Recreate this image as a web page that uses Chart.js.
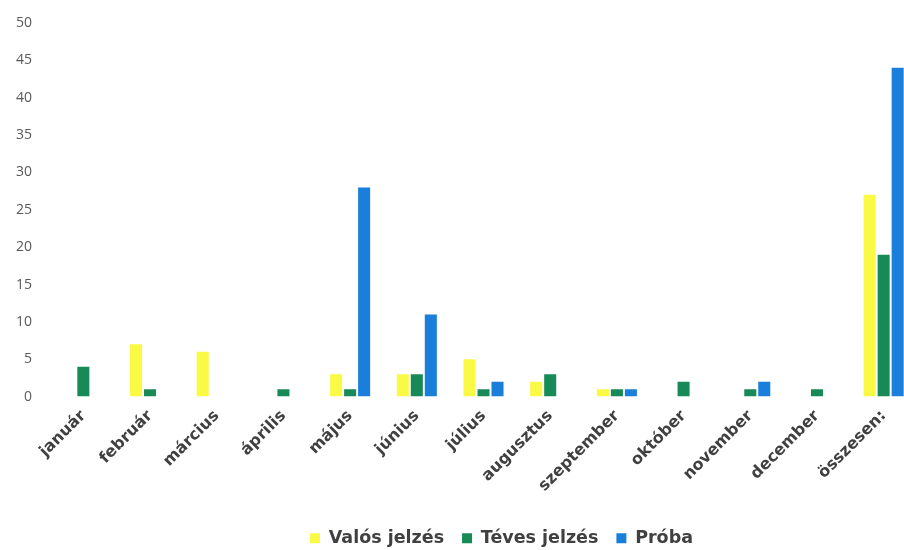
<!DOCTYPE html>
<html>
<head>
<meta charset="utf-8">
<script src="https://cdn.jsdelivr.net/npm/chart.js@4"></script>
<style>
  html, body { margin: 0; padding: 0; background: #fff; overflow: hidden; }
  #wrap { position: relative; width: 917px; height: 557px; }
</style>
</head>
<body>
<div id="wrap"><canvas id="jelzesChart"></canvas></div>
<script>
// data
const months = ['január', 'február', 'március', 'április', 'május', 'június', 'július',
    'augusztus', 'szeptember', 'október', 'november', 'december', 'összesen:'];
const valos = [0, 7, 6, 0, 3, 3, 5, 2, 1, 0, 0, 0, 27];
const teves = [4, 1, 0, 1, 1, 3, 1, 3, 1, 2, 1, 1, 19];
const proba = [0, 0, 0, 0, 28, 11, 2, 0, 1, 0, 2, 0, 44];
const seriesNames = ['Valós jelzés', 'Téves jelzés', 'Próba'];

const chartData = {
    labels: months,
    datasets: [
        { label: seriesNames[0], data: valos, backgroundColor: '#FAFA45', borderWidth: 0 },
        { label: seriesNames[1], data: teves, backgroundColor: '#178A57', borderWidth: 0 },
        { label: seriesNames[2], data: proba, backgroundColor: '#1A7FDB', borderWidth: 0 }
    ]
};

// nudge the legend to the right, like in the original
const legendShift = {
    id: 'legendShift',
    afterLayout(chart) {
        chart.legend.left += 40;
        chart.legend.right += 40;
    }
};

const config = {
    type: 'bar',
    data: chartData,
    options: {
        responsive: true,
        maintainAspectRatio: false,
        animation: false,
        categoryPercentage: 0.63,
        barPercentage: 0.86,
        layout: { padding: { top: 23, left: 6, right: 0, bottom: 0 } },
        scales: {
            x: {
                grid: { display: false },
                border: { display: false },
                afterFit: scale => { scale.height += 14; },
                ticks: {
                    minRotation: 45,
                    maxRotation: 45,
                    color: '#404040',
                    padding: 2,
                    font: { family: 'DejaVu Sans', size: 16, weight: 'bold' }
                }
            },
            y: {
                min: 0,
                max: 50,
                grid: { display: false },
                border: { display: false },
                ticks: {
                    stepSize: 5,
                    color: '#595959',
                    padding: 10,
                    font: { family: 'Open Sans', size: 14 }
                }
            }
        },
        plugins: {
            legend: {
                position: 'bottom',
                labels: {
                    boxWidth: 10,
                    boxHeight: 10,
                    padding: 18,
                    color: '#404040',
                    font: { family: 'DejaVu Sans', size: 17.5, weight: 'bold' }
                }
            },
            tooltip: { enabled: false }
        }
    },
    plugins: [legendShift]
};
new Chart(document.querySelector('#jelzesChart'), config);
</script>
</body>
</html>
